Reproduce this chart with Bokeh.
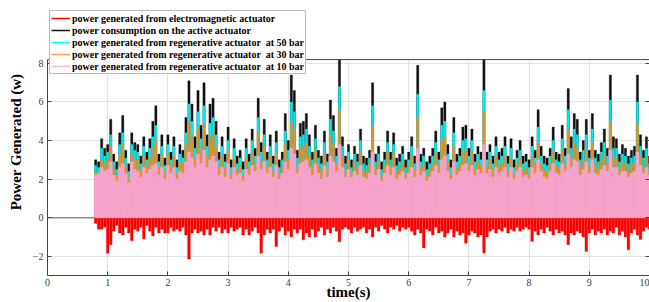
from bokeh.plotting import figure
from bokeh.models import (Range1d, LinearAxis, FixedTicker, Legend, LegendItem,
                          ColumnDataSource, Span, CustomJSTickFormatter)
from bokeh.embed import file_html
from bokeh.resources import INLINE

# ---------------- data ----------------
t_start = 0.8
dt = 0.05
# idle segment before the excitation starts (all series at 0)
idle_t = [0.0, 0.8]
idle_v = [0.0, 0.0]

black_active = [
    3.0, 2.9, 4.1, 3.6,
    3.8, 5.1, 3.3, 2.9, 4.4, 5.3, 3.5, 2.8, 4.4, 3.9, 3.8, 3.2, 4.2, 3.4, 4.1, 5.0, 5.8, 3.3, 4.3, 3.1,
    4.3, 3.4, 4.2, 3.0, 3.8, 3.5, 5.2, 7.1, 5.9, 4.2, 6.6, 4.8, 7.0, 4.3, 5.9, 6.2, 5.0, 3.4, 4.2, 3.3,
    4.7, 3.0, 4.1, 3.2, 3.5, 2.9, 4.1, 3.3, 4.6, 3.6, 6.2, 3.9, 5.1, 3.4, 4.3, 3.2, 4.5, 3.0, 3.4, 5.4,
    4.0, 7.4, 6.6, 3.5, 4.9, 5.0, 5.4, 4.3, 3.4, 4.8, 3.5, 3.2, 4.5, 3.3, 6.1, 5.3, 3.6, 8.2, 4.2, 3.2,
    3.8, 3.0, 3.7, 3.3, 4.6, 3.2, 3.1, 3.5, 7.0, 3.3, 3.7, 2.9, 3.4, 4.5, 3.4, 4.4, 3.1, 3.3, 3.7, 3.0,
    3.4, 4.2, 3.2, 7.9, 3.3, 3.6, 2.9, 3.2, 3.6, 4.5, 3.4, 5.7, 6.0, 3.8, 3.0, 5.2, 3.3, 3.6, 4.7, 4.8,
    3.6, 4.6, 3.3, 3.7, 3.4, 8.2, 3.4, 3.8, 3.2, 4.2, 3.4, 3.6, 4.2, 3.2, 4.1, 3.0, 3.5, 4.0, 3.2, 3.3,
    3.0, 4.2, 3.5, 5.6, 3.7, 3.2, 3.1, 3.6, 4.7, 3.4, 3.3, 4.8, 3.6, 6.7, 4.2, 5.4, 5.1, 3.4, 4.0, 5.1,
    3.5, 5.4, 3.5, 3.3, 3.9, 4.6, 3.6, 7.4, 4.2, 4.1, 3.3, 3.8, 3.6, 3.2, 3.5, 3.7, 7.4, 4.3, 3.5, 4.2,
    3.2,
]
cyan_50bar = [
    2.7, 2.6, 3.6, 3.2,
    3.4, 4.3, 2.9, 2.5, 3.8, 4.4, 3.1, 2.4, 3.8, 3.5, 3.4, 2.8, 3.7, 3.0, 3.6, 4.2, 4.8, 2.9, 3.7, 2.7,
    3.8, 3.0, 3.7, 2.6, 3.3, 3.1, 4.4, 5.9, 5.0, 3.6, 5.5, 4.1, 5.8, 3.7, 4.9, 5.2, 4.3, 3.0, 3.7, 2.9,
    4.0, 2.6, 3.6, 2.8, 3.1, 2.5, 3.6, 2.9, 4.0, 3.2, 5.2, 3.4, 4.3, 3.0, 3.7, 2.8, 3.9, 2.6, 3.0, 4.5,
    3.5, 6.0, 5.5, 3.1, 4.2, 4.3, 4.6, 3.7, 3.0, 4.1, 3.1, 2.8, 3.9, 2.9, 5.1, 4.5, 3.2, 6.8, 3.7, 2.8,
    3.4, 2.6, 3.3, 2.9, 4.0, 2.8, 2.7, 3.1, 5.8, 2.9, 3.3, 2.5, 3.0, 3.9, 3.0, 3.8, 2.7, 2.9, 3.3, 2.6,
    3.0, 3.7, 2.8, 6.4, 2.9, 3.2, 2.5, 2.8, 3.2, 3.9, 3.0, 4.8, 5.0, 3.3, 2.6, 4.4, 2.9, 3.2, 4.0, 4.1,
    3.2, 4.0, 2.9, 3.3, 3.0, 6.6, 3.0, 3.4, 2.8, 3.7, 3.0, 3.2, 3.7, 2.8, 3.6, 2.6, 3.1, 3.5, 2.8, 2.9,
    2.6, 3.7, 3.1, 4.7, 3.2, 2.8, 2.7, 3.2, 4.0, 3.0, 2.9, 4.1, 3.2, 5.6, 3.6, 4.6, 4.3, 3.0, 3.5, 4.3,
    3.1, 4.6, 3.1, 2.9, 3.4, 3.9, 3.2, 6.1, 3.6, 3.6, 2.9, 3.3, 3.2, 2.8, 3.1, 3.2, 6.0, 3.7, 3.1, 3.6,
    2.8,
]
orange_30bar = [
    2.4, 2.3, 3.0, 2.8,
    3.0, 3.7, 2.6, 2.2, 3.3, 3.8, 2.7, 2.1, 3.3, 3.0, 3.0, 2.5, 3.2, 2.7, 3.1, 3.6, 4.0, 2.6, 3.2, 2.4,
    3.3, 2.7, 3.2, 2.3, 2.9, 2.8, 3.8, 5.0, 4.3, 3.1, 4.6, 3.5, 4.9, 3.2, 4.2, 4.4, 3.7, 2.7, 3.2, 2.6,
    3.5, 2.3, 3.1, 2.5, 2.7, 2.2, 3.1, 2.6, 3.4, 2.8, 4.4, 2.9, 3.7, 2.7, 3.2, 2.5, 3.3, 2.3, 2.7, 3.8,
    3.0, 5.0, 4.6, 2.7, 3.6, 3.7, 3.9, 3.2, 2.7, 3.5, 2.8, 2.5, 3.3, 2.6, 4.3, 3.8, 2.8, 5.6, 3.2, 2.5,
    3.0, 2.4, 2.9, 2.6, 3.4, 2.5, 2.4, 2.8, 4.8, 2.6, 2.9, 2.2, 2.7, 3.4, 2.7, 3.3, 2.4, 2.6, 2.9, 2.3,
    2.7, 3.2, 2.5, 5.2, 2.6, 2.8, 2.2, 2.5, 2.8, 3.3, 2.7, 4.0, 4.2, 2.9, 2.3, 3.7, 2.6, 2.8, 3.4, 3.5,
    2.8, 3.4, 2.6, 2.9, 2.7, 5.5, 2.7, 3.0, 2.5, 3.2, 2.7, 2.8, 3.2, 2.5, 3.1, 2.3, 2.8, 3.1, 2.5, 2.6,
    2.3, 3.2, 2.8, 3.9, 2.8, 2.5, 2.4, 2.8, 3.4, 2.7, 2.6, 3.5, 2.8, 4.6, 3.1, 3.9, 3.6, 2.7, 3.0, 3.6,
    2.7, 3.9, 2.8, 2.6, 3.0, 3.3, 2.8, 5.0, 3.1, 3.1, 2.6, 2.9, 2.8, 2.5, 2.8, 2.8, 4.9, 3.2, 2.7, 3.1,
    2.5,
]
pink_10bar = [
    2.2, 2.3, 2.6, 2.4,
    2.5, 2.9, 2.2, 1.9, 2.6, 2.8, 2.3, 1.8, 2.9, 2.5, 2.4, 2.1, 2.6, 2.3, 2.5, 2.7, 2.8, 2.2, 2.6, 2.0,
    2.7, 2.3, 2.6, 2.0, 2.4, 2.3, 2.9, 3.4, 3.1, 2.6, 3.3, 2.8, 3.5, 2.6, 3.0, 3.2, 2.9, 2.2, 2.6, 2.1,
    2.8, 2.0, 2.6, 2.2, 2.3, 1.9, 2.5, 2.2, 2.7, 2.4, 3.2, 2.5, 2.9, 2.3, 2.6, 2.1, 2.7, 2.0, 2.3, 2.9,
    2.5, 3.6, 3.3, 2.3, 2.8, 2.9, 3.0, 2.6, 2.2, 2.8, 2.3, 2.0, 2.7, 2.1, 3.2, 2.9, 2.4, 3.8, 2.6, 2.1,
    2.5, 2.1, 2.4, 2.2, 2.7, 2.1, 2.0, 2.3, 3.4, 2.2, 2.5, 1.9, 2.3, 2.7, 2.2, 2.6, 2.0, 2.2, 2.4, 2.0,
    2.3, 2.6, 2.1, 3.6, 2.2, 2.4, 1.9, 2.1, 2.4, 2.7, 2.3, 3.0, 3.2, 2.4, 2.0, 2.9, 2.2, 2.4, 2.7, 2.8,
    2.4, 2.7, 2.2, 2.5, 2.3, 3.8, 2.3, 2.5, 2.1, 2.6, 2.3, 2.4, 2.6, 2.1, 2.6, 2.0, 2.4, 2.6, 2.1, 2.2,
    2.0, 2.6, 2.3, 3.0, 2.4, 2.1, 2.0, 2.4, 2.8, 2.3, 2.2, 2.8, 2.4, 3.3, 2.6, 3.0, 2.9, 2.2, 2.5, 2.9,
    2.3, 3.0, 2.3, 2.2, 2.5, 2.7, 2.4, 3.5, 2.6, 2.6, 2.2, 2.4, 2.4, 2.1, 2.3, 2.4, 3.4, 2.7, 2.3, 2.6,
    2.2,
]
red_electromag = [
    -0.3, -0.6, -0.6, -0.5,
    -1.85, -1.4, -0.7, -0.4, -0.8, -0.9, -0.5, -0.8, -1.2, -0.6, -0.7, -0.5, -1.1, -0.4, -0.7, -0.95, -0.5, -0.8, -0.6, -0.8,
    -0.8, -0.5, -0.7, -0.6, -0.7, -0.5, -0.9, -2.15, -0.8, -0.6, -0.8, -0.7, -0.9, -0.6, -0.9, -0.5, -0.7, -0.5, -0.8, -0.6,
    -0.8, -0.5, -0.7, -0.6, -0.5, -0.9, -0.6, -0.9, -0.7, -0.5, -0.8, -1.85, -0.9, -0.6, -0.8, -0.6, -1.5, -0.7, -0.5, -0.9,
    -0.7, -1.0, -0.6, -0.8, -0.6, -1.15, -0.8, -1.0, -0.6, -1.0, -0.7, -0.5, -0.9, -0.6, -0.8, -0.5, -0.7, -1.25, -0.6, -0.5,
    -0.6, -0.8, -0.5, -0.7, -0.6, -0.5, -0.8, -0.6, -1.0, -0.5, -0.7, -0.4, -0.6, -0.8, -0.5, -0.6, -0.4, -0.7, -0.5, -0.6,
    -0.5, -0.7, -0.9, -0.6, -0.8, -1.57, -0.6, -0.7, -0.9, -0.5, -0.8, -0.7, -1.0, -0.8, -0.6, -1.0, -0.7, -0.9, -0.8, -1.33,
    -0.9, -0.7, -0.8, -1.0, -0.9, -1.83, -1.0, -0.7, -0.6, -0.8, -0.6, -0.7, -0.5, -0.8, -0.6, -0.7, -0.5, -0.7, -0.6, -0.5,
    -0.6, -1.23, -0.7, -0.9, -0.6, -0.8, -0.5, -0.7, -0.9, -0.6, -0.8, -0.7, -0.9, -1.4, -0.8, -0.9, -0.7, -0.8, -1.0, -1.75,
    -0.8, -0.6, -0.9, -0.7, -0.8, -0.6, -0.9, -0.7, -0.8, -0.5, -0.9, -0.7, -1.0, -1.67, -0.8, -0.6, -0.9, -1.13, -0.7, -0.5,
    -0.6,
]
x_ticks = [0, 1, 2, 3, 4, 5, 6, 7, 8, 9, 10]
y_ticks = [-2, 0, 2, 4, 6, 8]
y_axis_min, y_axis_max = -3, 8.2
labels = [
    "power generated from electromagnetic actuator",
    "power consumption on the active actuator",
    "power generated from regenerative actuator  at 50 bar",
    "power generated from regenerative actuator  at 30 bar",
    "power generated from regenerative actuator  at 10 bar",
]
colors = ["#ff0000", "#111111", "#00eaea", "#e0922e", "#f8a2cc"]
legend_colors = ["#ff0000", "#111111", "#00ffff", "#ffa54f", "#ffb6d9"]

t = [round(t_start + dt * i, 3) for i in range(len(black_active))]
src = ColumnDataSource(dict(t=t, red=red_electromag, black=black_active,
                            cyan=cyan_50bar, orange=orange_30bar, pink=pink_10bar))

# ---------------- figure ----------------
SERIF = "Liberation Serif"
AX = "#444444"
# the frame is extended upwards so the legend can overhang the axes box
p = figure(width=649, height=302, output_backend="svg", toolbar_location=None,
           x_range=Range1d(0, 10), y_range=Range1d(y_axis_min, 10.85),
           min_border_left=47, min_border_right=0, min_border_top=8, min_border_bottom=0)
p.background_fill_color = "white"
p.border_fill_color = "white"
p.outline_line_color = None

p.xgrid.ticker = FixedTicker(ticks=x_ticks)
p.ygrid.ticker = FixedTicker(ticks=y_ticks)
p.grid.grid_line_color = "#e3e3e3"
p.grid.grid_line_width = 1
p.xgrid.cross_bounds = (y_axis_min, y_axis_max)

# series (drawn in legend order, later ones on top)
p.vbar(x="t", top=0, bottom="red", width=0.045, source=src, fill_color=colors[0], line_color=colors[0], line_width=0.3)
p.vbar(x="t", top="black", bottom=0, width=0.038, source=src, fill_color=colors[1], line_color=colors[1], line_width=0.3)
p.vbar(x="t", top="cyan", bottom=0, width=0.038, source=src, fill_color=colors[2], line_color=colors[2], line_width=0.3)
p.vbar(x="t", top="orange", bottom=0, width=0.038, source=src, fill_color=colors[3], line_color=colors[3], line_width=0.3)
p.vbar(x="t", top="pink", bottom=0, width=0.05, source=src, fill_color=colors[4], line_color=colors[4], line_width=0.6)
p.line(idle_t, idle_v, line_color="#8c8c8c", line_width=1.5)

# top edge of the axes box
p.add_layout(Span(location=y_axis_max, dimension="width", line_color=AX, line_width=1))

# legend proxies (line glyphs, nothing drawn in the data area)
nan = float("nan")
items = []
for lab, col in zip(labels, legend_colors):
    r = p.line(x=[nan], y=[nan], line_color=col, line_width=1.5)
    items.append(LegendItem(label=lab, renderers=[r]))
legend = Legend(items=items, location="top_left")
legend.label_text_font = SERIF
legend.label_text_font_style = "bold"
legend.label_text_font_size = "10px"
legend.label_text_color = "#000000"
legend.label_height = 12
legend.glyph_height = 12
legend.glyph_width = 19
legend.label_standoff = 2
legend.spacing = 0
legend.padding = 1
legend.margin = 2
legend.border_line_color = "#777777"
legend.border_line_width = 1
legend.background_fill_color = "white"
legend.background_fill_alpha = 1.0
p.add_layout(legend, "center")

# axes
def style_axis(ax, ticks):
    ax.ticker = FixedTicker(ticks=ticks)
    ax.major_tick_in = 4
    ax.major_tick_out = 0
    ax.minor_tick_line_color = None
    ax.axis_line_color = AX
    ax.major_tick_line_color = AX
    ax.major_label_text_font = SERIF
    ax.major_label_text_font_size = "10px"
    ax.major_label_text_color = "#3a3a3a"

style_axis(p.xaxis[0], x_ticks)
style_axis(p.yaxis[0], y_ticks)
p.yaxis.bounds = (y_axis_min, y_axis_max)
p.xaxis.major_label_standoff = 3
p.yaxis.major_label_standoff = 4
p.xaxis.axis_label = "time(s)"
p.yaxis.axis_label = "Power Generated (w)"
for ax in (p.xaxis[0], p.yaxis[0]):
    ax.axis_label_text_font = SERIF
    ax.axis_label_text_font_style = "bold"
    ax.axis_label_text_font_size = "15px"
    ax.axis_label_text_color = "#000000"
p.xaxis.axis_label_standoff = -5
p.yaxis.axis_label_standoff = 6

ra = LinearAxis(bounds=(y_axis_min, y_axis_max))
style_axis(ra, y_ticks)
ra.formatter = CustomJSTickFormatter(code="return ''")
ra.major_label_standoff = 0
p.add_layout(ra, "right")

open("out.html", "w").write(file_html(p, INLINE))
